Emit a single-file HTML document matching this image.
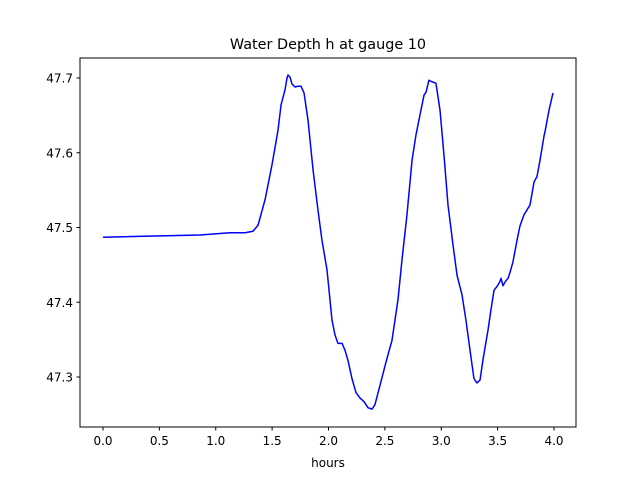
<!DOCTYPE html>
<html><head><meta charset="utf-8"><style>
html,body{margin:0;padding:0;background:#fff;}
svg text{font-family:"DejaVu Sans","Liberation Sans",sans-serif;font-size:12px;fill:#000;}
</style></head><body>
<svg id="chart" width="640" height="480" xmlns="http://www.w3.org/2000/svg">
<rect width="640" height="480" fill="#fff"/>
<text x="328" y="49" text-anchor="middle" style="font-size:14.4px">Water Depth h at gauge 10</text>
<g id="xt"></g>
<g id="yt"></g>
<path id="line" fill="none" stroke="#0000ff" stroke-width="1.5" stroke-linejoin="round"/>
<rect x="80" y="58" width="496" height="369" fill="none" stroke="#000" stroke-width="1"/>
<text x="328" y="467" text-anchor="middle">hours</text>
</svg>
<script>
const hours=[0,0.86,1.126,1.259,1.33,1.375,1.437,1.499,1.552,1.579,1.614,1.632,1.641,1.659,1.676,1.703,1.729,1.756,1.783,1.818,1.863,1.907,1.942,1.987,2.031,2.058,2.084,2.12,2.146,2.173,2.208,2.244,2.279,2.315,2.35,2.386,2.412,2.457,2.51,2.563,2.616,2.652,2.696,2.741,2.776,2.812,2.847,2.865,2.891,2.918,2.953,2.989,3.024,3.06,3.104,3.14,3.184,3.219,3.255,3.29,3.317,3.344,3.37,3.415,3.441,3.468,3.503,3.521,3.53,3.548,3.565,3.592,3.61,3.636,3.672,3.698,3.734,3.787,3.823,3.849,3.876,3.911,3.92,3.956,3.991];
const depth=[47.487,47.490,47.493,47.493,47.495,47.503,47.537,47.584,47.630,47.664,47.684,47.700,47.704,47.701,47.692,47.688,47.689,47.689,47.680,47.644,47.577,47.523,47.483,47.443,47.376,47.356,47.345,47.345,47.336,47.322,47.298,47.279,47.272,47.267,47.259,47.257,47.263,47.289,47.320,47.349,47.403,47.457,47.517,47.590,47.624,47.651,47.677,47.681,47.697,47.695,47.693,47.657,47.597,47.530,47.477,47.436,47.410,47.376,47.336,47.298,47.292,47.296,47.323,47.363,47.390,47.416,47.423,47.428,47.432,47.422,47.427,47.432,47.440,47.454,47.483,47.502,47.517,47.530,47.561,47.568,47.590,47.622,47.628,47.657,47.680];
const xTicks=[0,0.5,1,1.5,2,2.5,3,3.5,4];
const xTickLabels=["0.0","0.5","1.0","1.5","2.0","2.5","3.0","3.5","4.0"];
const yTicks=[47.3,47.4,47.5,47.6,47.7];
const yTickLabels=["47.3","47.4","47.5","47.6","47.7"];
const X=t=>103+t*112.75;
const Y=h=>78-(h-47.7)*747.5;
const NS="http://www.w3.org/2000/svg";
let d="";
for(let i=0;i<hours.length;i++){d+=(i?"L":"M")+X(hours[i]).toFixed(2)+","+Y(depth[i]).toFixed(2);}
document.getElementById("line").setAttribute("d",d);
const xt=document.getElementById("xt"),yt=document.getElementById("yt");
xTicks.forEach((v,i)=>{
 const l=document.createElementNS(NS,"line");
 
 
 l.setAttribute("x1",X(v));l.setAttribute("x2",X(v));l.setAttribute("y1",427);l.setAttribute("y2",430.5);l.setAttribute("stroke","#000");
 xt.appendChild(l);
 const t=document.createElementNS(NS,"text");
 
 
 t.setAttribute("x",X(v));t.setAttribute("y",445);t.setAttribute("text-anchor","middle");t.textContent=xTickLabels[i];
 xt.appendChild(t);
});
yTicks.forEach((v,i)=>{
 const l=document.createElementNS(NS,"line");
 
 
 l.setAttribute("x1",76.5);l.setAttribute("x2",80);l.setAttribute("y1",Y(v));l.setAttribute("y2",Y(v));l.setAttribute("stroke","#000");
 yt.appendChild(l);
 const t=document.createElementNS(NS,"text");
 
 
 t.setAttribute("x",73);t.setAttribute("y",Y(v)+4.5);t.setAttribute("text-anchor","end");t.textContent=yTickLabels[i];
 yt.appendChild(t);
});
</script>
</body></html>
